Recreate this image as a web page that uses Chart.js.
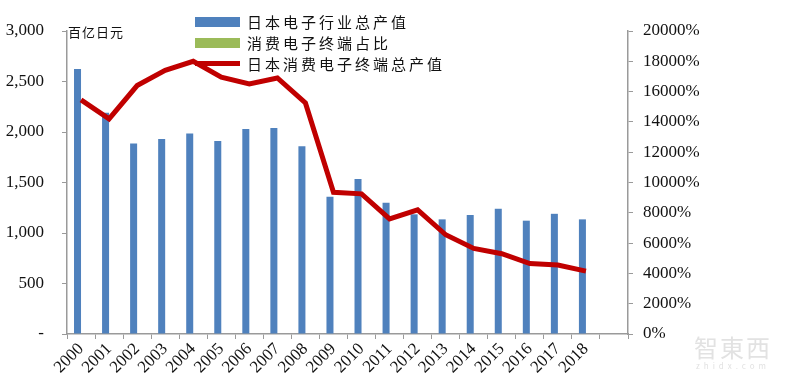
<!DOCTYPE html>
<html>
<head>
<meta charset="utf-8">
<script src="https://cdn.jsdelivr.net/npm/chart.js@4"></script>
<style>
    body { margin: 0; background: #fff; }
    #wrap { position: relative; width: 800px; height: 390px; }
    #legend { position: absolute; left: 195px; top: 11px; font-family: "Noto Sans CJK SC", sans-serif; font-size: 15px; color: #111; }
    .legend-row { display: flex; align-items: center; height: 21px; letter-spacing: 3px; }
    .legend-key { width: 45px; margin-right: 7px; }
    #unit { position: absolute; left: 68px; top: 22px; font-family: "Noto Sans CJK SC", sans-serif; font-size: 13px; letter-spacing: 1px; color: #111; }
    #mark { position: absolute; left: 694px; top: 334px; font-family: "Noto Sans CJK SC", sans-serif; color: #e2e2e2; text-align: center; }
</style>
</head>
<body>
<div id="wrap">
    <canvas id="chart" width="800" height="390"></canvas>
    <div id="legend"></div>
    <div id="unit">百亿日元</div>
    <div id="mark"><div style="font-size:24px;letter-spacing:2px;line-height:26px">智東西</div><div style="font-size:8px;letter-spacing:4px">zhidx.com</div></div>
</div>
<script>
const years = ['2000', '2001', '2002', '2003', '2004', '2005', '2006', '2007', '2008', '2009',
    '2010', '2011', '2012', '2013', '2014', '2015', '2016', '2017', '2018', ''];

// 日本电子行业总产值 (百亿日元)
const industryValues = [2625, 2190, 1885, 1930, 1985, 1910, 2030, 2040, 1860, 1360,
    1535, 1300, 1185, 1135, 1178, 1240, 1122, 1190, 1135, null];

// 消费电子终端占比 (no data shown)
const consumerShare = [];

// 日本消费电子终端总产值 (%)
const consumerValues = [15450, 14200, 16400, 17400, 18000, 16950, 16500, 16900, 15250, 9350,
    9250, 7600, 8200, 6550, 5650, 5300, 4650, 4550, 4150, null];

const axisColor = '#9a9a9a';
const tickFont = { family: 'Liberation Serif', size: 17 };

const datasets = [
    {
        type: 'line',
        label: '日本消费电子终端总产值',
        data: consumerValues,
        yAxisID: 'y1',
        borderColor: '#C00000',
        borderWidth: 5,
        pointRadius: 0,
        tension: 0,
        order: 0
    },
    {
        type: 'bar',
        label: '日本电子行业总产值',
        data: industryValues,
        yAxisID: 'y',
        backgroundColor: '#4F81BD',
        order: 1
    },
    {
        type: 'bar',
        label: '消费电子终端占比',
        data: consumerShare,
        yAxisID: 'y',
        backgroundColor: '#9BBB59',
        order: 2
    }
];

new Chart(document.getElementById('chart'), {
    data: { labels: years, datasets: datasets },
    options: {
        responsive: false,
        animation: false,
        layout: { padding: { top: 31, left: 0, right: 0, bottom: 0 } },
        datasets: { bar: { categoryPercentage: 0.5, barPercentage: 1 } },
        plugins: { legend: { display: false }, tooltip: { enabled: false } },
        scales: {
            x: {
                offset: true,
                grid: { offset: true, drawOnChartArea: false, color: axisColor, tickLength: 5 },
                border: { color: axisColor, width: 1.5 },
                ticks: { color: '#111', font: tickFont, minRotation: 45, maxRotation: 45, padding: 0, autoSkip: false },
                afterFit: scale => { scale.height = 56; }
            },
            y: {
                position: 'left',
                min: 0,
                max: 3000,
                grid: { drawOnChartArea: false, color: axisColor, tickLength: 5 },
                border: { color: axisColor, width: 1.5 },
                ticks: {
                    stepSize: 500,
                    color: '#111',
                    font: tickFont,
                    padding: 18,
                    callback: v => v === 0 ? '-' : v.toLocaleString('en-US')
                },
                afterFit: scale => { scale.width = 67; }
            },
            y1: {
                position: 'right',
                min: 0,
                max: 20000,
                grid: { drawOnChartArea: false, color: axisColor, tickLength: 5 },
                border: { color: axisColor, width: 1.5 },
                ticks: {
                    stepSize: 2000,
                    color: '#111',
                    font: tickFont,
                    padding: 10,
                    callback: v => v + '%'
                },
                afterFit: scale => { scale.width = 172; }
            }
        }
    }
});

// Legend in the order of the original picture
const legendEl = document.getElementById('legend');
[datasets[1], datasets[2], datasets[0]].forEach(ds => {
    const row = document.createElement('div');
    row.className = 'legend-row';
    const key = document.createElement('div');
    key.className = 'legend-key';
    if (ds.type === 'bar') {
        key.style.height = '10px';
        key.style.background = ds.backgroundColor;
    } else {
        key.style.height = '5px';
        key.style.background = ds.borderColor;
    }
    const text = document.createElement('span');
    text.textContent = ds.label;
    row.appendChild(key);
    row.appendChild(text);
    legendEl.appendChild(row);
});
</script>
</body>
</html>
